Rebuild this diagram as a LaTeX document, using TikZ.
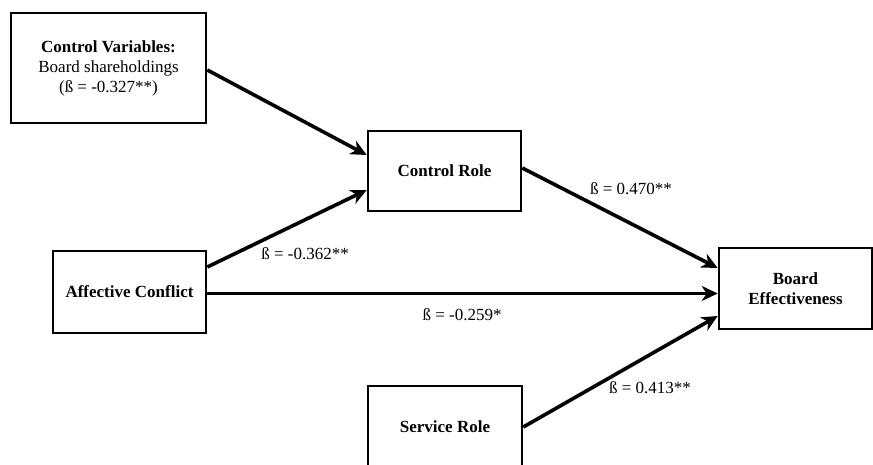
\documentclass[tikz,border=0pt]{standalone}
\usepackage{fontspec}
\setmainfont{Liberation Serif}
\usetikzlibrary{arrows.meta,calc}
\begin{document}
\begin{tikzpicture}[x=1pt,y=-1pt,
  box/.style={draw=black,line width=2.6pt,fill=white,align=center,inner sep=0pt,
    font=\fontsize{17}{21}\selectfont\bfseries},
  conn/.style={line width=3.6pt,-{Stealth[length=16pt,width=15pt,inset=5pt]}},
  lab/.style={font=\fontsize{17}{21}\selectfont,inner sep=1pt}]
\useasboundingbox (0,0) rectangle (873,464);
\node[box,minimum width=195pt,minimum height=110pt] (cv) at (108.5,68)
  {Control Variables:\\[-1pt]{\mdseries Board shareholdings}\\[-1pt]{\mdseries (ß = -0.327**)}};
\node[box,minimum width=153pt,minimum height=80pt] (cr) at (444.5,171) {Control Role};
\node[box,minimum width=153pt,minimum height=82pt] (ac) at (129.5,292) {Affective Conflict};
\node[box,minimum width=154pt,minimum height=82pt] (sr) at (445,427) {Service Role};
\node[box,minimum width=153pt,minimum height=81pt] (be) at (795.5,288.5) {Board\\[-1pt]Effectiveness};
\draw[conn] ($(cv.east)+(0,2)$) -- ($(cr.west)+(0,-16)$);
\draw[conn] ($(ac.east)+(0,-25)$) -- ($(cr.west)+(0,19)$);
\draw[conn] ($(ac.east)+(0,1.5)$) -- ($(be.west)+(0,5)$);
\draw[conn] ($(cr.east)+(0,-3)$) -- ($(be.west)+(0,-20.5)$);
\draw[conn] (sr.east) -- ($(be.west)+(0,27.5)$);
\node[lab] (l1) at (305,254) {ß = -0.362**};
\node[lab] (l2) at (462,315) {ß = -0.259*};
\node[lab] (l3) at (631,189) {ß = 0.470**};
\node[lab] (l4) at (650,388) {ß = 0.413**};
\end{tikzpicture}
\end{document}
